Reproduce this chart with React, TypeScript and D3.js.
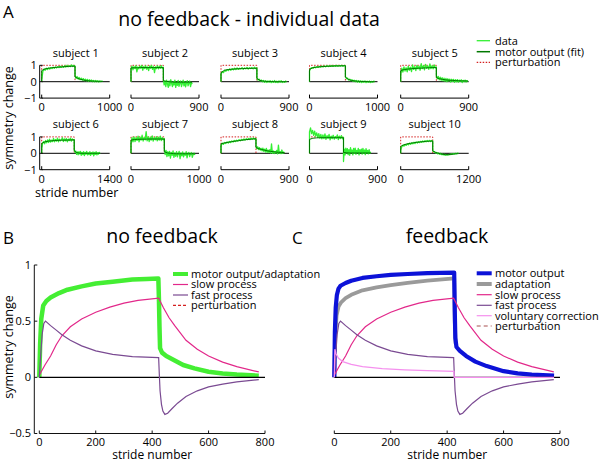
import React from "react";
import * as d3 from "d3";

const FONT = "'Open Sans', 'Noto Sans', sans-serif";

// ---------- Panel A data ----------
const subjectLabels = ["subject 1", "subject 2", "subject 3", "subject 4", "subject 5", "subject 6", "subject 7", "subject 8", "subject 9", "subject 10"];
const axisMax = [1000, 900, 900, 1000, 900, 1400, 1000, 900, 900, 1200];
const adaptEnd = [490, 428, 475, 528, 472, 670, 490, 463, 450, 565];
const dataEnd = [900, 810, 870, 960, 890, 1200, 940, 840, 810, 1020];
const smallYTicks = [1, 0, -1];

const s1Adapt = [0.1, 0.62, 0.78, 0.7, 0.82, 0.74, 0.84, 0.77, 0.86, 0.8, 0.88, 0.82, 0.9, 0.84, 0.92, 0.86, 0.94, 0.87, 0.95, 0.88, 0.97, 0.9, 1.0, 0.91, 0.98, 0.92, 1.02, 0.93, 0.99, 0.95];
const s1Wash = [0.38, 0.2, 0.32, 0.16, 0.26, 0.12, 0.22, 0.1, 0.19, 0.06, 0.16, 0.05, 0.14, 0.02, 0.12, 0.03, 0.1, 0.0, 0.08, -0.01, 0.07, 0.0, 0.06, -0.02, 0.05, 0.0, 0.04, 0.01];
const s1FitAdapt = [0.68, 0.78, 0.82, 0.85, 0.87, 0.89, 0.9, 0.92, 0.93, 0.94, 0.95];
const s1FitWash = [0.3, 0.2, 0.14, 0.1, 0.07, 0.05, 0.04, 0.03, 0.02, 0.02, 0.01];

const s2Adapt = [0.8, 0.95, 0.72, 0.92, 0.8, 0.98, 0.6, 0.9, 0.78, 0.95, 0.82, 1.0, 0.7, 0.92, 0.8, 0.97, 0.76, 0.9, 0.68, 0.96, 0.82, 1.0, 0.75, 0.92, 0.55, 0.9, 0.8, 0.97, 0.78, 0.93, 0.82, 0.98, 0.8, 0.88];
const s2Wash = [0.15, -0.2, 0.05, -0.3, 0.1, -0.15, -0.35, 0.05, -0.25, 0.12, -0.1, -0.3, 0.0, -0.2, 0.1, -0.35, -0.05, -0.22, 0.08, -0.28, -0.1, 0.05, -0.3, -0.12, 0.1, -0.25, 0.0, -0.32, -0.08, 0.06, -0.25, -0.1, 0.04, -0.3, -0.05, -0.15];
const s2FitAdapt = [0.84, 0.85, 0.85, 0.86, 0.86, 0.86, 0.86, 0.86, 0.86, 0.86, 0.86];
const s2FitWash = [0.05, 0.02, 0.0, -0.02, -0.03, -0.03, -0.03, -0.03, -0.03, -0.03, -0.03];

const s3Adapt = [0.45, 0.62, 0.55, 0.7, 0.64, 0.74, 0.68, 0.78, 0.7, 0.8, 0.72, 0.82, 0.74, 0.84, 0.75, 0.82, 0.78, 0.86, 0.76, 0.84, 0.79, 0.87, 0.77, 0.85, 0.8, 0.86, 0.78, 0.88, 0.8, 0.84];
const s3Wash = [0.22, 0.1, 0.16, 0.04, 0.1, 0.0, 0.07, -0.04, 0.06, -0.05, 0.05, -0.03, 0.06, -0.06, 0.04, -0.04, 0.07, -0.05, 0.03, -0.06, 0.05, -0.03, 0.06, -0.05, 0.02, -0.04, 0.04, 0.0];
const s3FitAdapt = [0.55, 0.7, 0.74, 0.76, 0.78, 0.79, 0.8, 0.81, 0.81, 0.82, 0.82];
const s3FitWash = [0.2, 0.08, 0.04, 0.02, 0.01, 0.01, 0.0, 0.0, 0.0, 0.0, 0.0];

const s4Adapt = [0.65, 0.82, 0.86, 0.82, 0.9, 0.85, 0.92, 0.87, 0.93, 0.89, 0.95, 0.9, 0.96, 0.91, 0.98, 0.92, 0.97, 0.93, 0.99, 0.93, 0.98, 0.94, 1.0, 0.94, 0.99, 0.95, 1.0, 0.94, 0.99, 0.97];
const s4Wash = [0.32, 0.18, 0.22, 0.1, 0.15, 0.06, 0.12, 0.02, 0.09, 0.0, 0.07, -0.03, 0.06, -0.04, 0.05, -0.05, 0.04, -0.03, 0.05, -0.06, 0.03, -0.04, 0.04, -0.05, 0.02, -0.03, 0.03, 0.0];
const s4FitAdapt = [0.75, 0.86, 0.89, 0.91, 0.93, 0.94, 0.95, 0.96, 0.96, 0.97, 0.97];
const s4FitWash = [0.28, 0.14, 0.08, 0.05, 0.03, 0.02, 0.01, 0.01, 0.0, 0.0, 0.0];

const s5Adapt = [0.4, 0.82, 0.58, 0.9, 0.65, 0.85, 0.6, 0.95, 0.7, 0.88, 0.62, 1.02, 0.75, 0.92, 0.68, 1.0, 0.78, 0.95, 0.7, 1.1, 0.8, 0.98, 0.72, 1.05, 0.82, 0.96, 0.75, 1.08, 0.8, 0.98, 0.78, 1.02, 0.84, 0.9];
const s5Wash = [0.38, 0.18, 0.32, 0.12, 0.28, 0.08, 0.25, 0.05, 0.22, 0.02, 0.2, 0.0, 0.18, 0.04, 0.16, -0.02, 0.15, 0.02, 0.14, -0.04, 0.12, 0.0, 0.13, -0.03, 0.1, 0.02, 0.12, -0.05, 0.08, 0.0, 0.1, -0.02, 0.06, 0.02];
const s5FitAdapt = [0.68, 0.74, 0.77, 0.79, 0.81, 0.82, 0.83, 0.84, 0.85, 0.86, 0.86];
const s5FitWash = [0.25, 0.18, 0.14, 0.11, 0.09, 0.08, 0.07, 0.06, 0.05, 0.05, 0.04];

const s6Adapt = [0.3, 0.62, 0.72, 0.58, 0.78, 0.64, 0.82, 0.66, 0.86, 0.68, 0.8, 0.72, 0.9, 0.7, 0.84, 0.74, 0.92, 0.7, 0.86, 0.76, 0.82, 0.95, 0.72, 0.88, 0.76, 0.9, 0.7, 0.86, 0.78, 0.92, 0.74, 0.88, 0.8, 0.84];
const s6Wash = [0.22, 0.05, 0.14, -0.06, 0.08, -0.1, 0.1, -0.04, 0.12, -0.12, 0.05, -0.08, 0.1, -0.14, 0.06, -0.05, 0.12, -0.1, 0.02, -0.08, 0.1, -0.12, 0.04, -0.06, 0.09, -0.15, 0.05, -0.07, 0.1, -0.1, 0.03, -0.05, 0.06, -0.02];
const s6FitAdapt = [0.6, 0.7, 0.74, 0.76, 0.78, 0.79, 0.8, 0.8, 0.81, 0.81, 0.82];
const s6FitWash = [0.15, 0.04, 0.01, 0.0, 0.0, 0.0, 0.0, 0.0, 0.0, 0.0, 0.0];

const s7Adapt = [0.55, 0.95, 0.7, 1.0, 0.72, 0.95, 0.78, 1.05, 0.7, 0.98, 0.8, 1.1, 0.75, 0.96, 0.82, 1.32, 0.76, 1.0, 0.72, 0.98, 0.8, 1.06, 0.74, 0.96, 0.82, 1.02, 0.76, 0.98, 0.8, 1.04, 0.78, 0.95, 0.82, 0.9];
const s7Wash = [0.25, -0.08, 0.18, -0.2, 0.1, -0.15, 0.12, -0.3, 0.05, -0.12, 0.15, -0.25, 0.02, -0.18, 0.1, -0.22, -0.02, 0.12, -0.32, 0.02, -0.15, 0.08, -0.22, 0.0, -0.12, 0.1, -0.28, -0.02, 0.06, -0.2, -0.05, 0.05, -0.25, -0.08, 0.02, -0.1];
const s7FitAdapt = [0.8, 0.84, 0.85, 0.86, 0.86, 0.87, 0.87, 0.87, 0.87, 0.87, 0.87];
const s7FitWash = [0.1, 0.02, 0.0, -0.02, -0.03, -0.03, -0.03, -0.03, -0.03, -0.03, -0.03];

const s8Adapt = [0.45, 0.62, 0.55, 0.66, 0.6, 0.7, 0.62, 0.72, 0.66, 0.75, 0.68, 0.78, 0.72, 0.8, 0.74, 0.83, 0.76, 0.85, 0.79, 0.87, 0.8, 0.89, 0.83, 0.91, 0.84, 0.92, 0.85, 0.93, 0.86, 0.9];
const s8Wash = [0.45, 0.28, 0.4, 0.22, 0.35, 0.2, 0.3, 0.15, 0.32, 0.12, 0.25, 0.08, 0.3, 0.06, 0.2, 0.05, 0.22, 0.02, 0.58, 0.0, 0.15, -0.02, 0.12, 0.02, 0.18, -0.04, 0.5, 0.0, 0.1, -0.02, 0.2, 0.0, 0.08, 0.02];
const s8FitAdapt = [0.58, 0.63, 0.67, 0.71, 0.74, 0.77, 0.8, 0.83, 0.85, 0.87, 0.89];
const s8FitWash = [0.35, 0.28, 0.23, 0.19, 0.15, 0.12, 0.1, 0.08, 0.06, 0.05, 0.04];

const s9Adapt = [1.3, 1.55, 1.2, 1.4, 1.1, 1.35, 1.05, 1.25, 0.98, 1.2, 0.92, 1.15, 0.88, 1.12, 0.9, 1.18, 0.85, 1.08, 0.92, 1.15, 0.82, 1.05, 0.9, 1.1, 0.86, 1.02, 0.92, 1.12, 0.84, 1.05, 0.9, 1.08, 0.88, 0.98];
const s9Wash = [-0.5, 0.25, -0.1, 0.32, 0.02, 0.28, -0.08, 0.22, -0.12, 0.35, 0.05, 0.2, -0.1, 0.3, 0.0, 0.32, -0.06, 0.18, 0.04, 0.3, -0.1, 0.22, 0.06, 0.25, -0.05, 0.3, 0.0, 0.2, -0.08, 0.28, 0.02, 0.18, -0.04, 0.22, 0.0, 0.1];
const s9FitAdapt = [0.85, 0.92, 0.94, 0.95, 0.95, 0.95, 0.95, 0.95, 0.95, 0.95, 0.95];
const s9FitWash = [0.05, 0.03, 0.02, 0.02, 0.02, 0.02, 0.02, 0.02, 0.02, 0.02, 0.02];

const s10Adapt = [0.2, 0.4, 0.5, 0.44, 0.54, 0.48, 0.58, 0.52, 0.62, 0.55, 0.64, 0.58, 0.67, 0.6, 0.69, 0.63, 0.71, 0.65, 0.73, 0.67, 0.75, 0.68, 0.77, 0.7, 0.78, 0.71, 0.79, 0.72, 0.78, 0.75];
const s10Wash = [0.16, 0.08, 0.1, 0.02, 0.05, -0.03, 0.02, -0.06, 0.0, -0.08, -0.04, -0.1, -0.06, -0.12, -0.07, -0.11, -0.08, -0.1, -0.05, -0.08, -0.03, -0.06, -0.02, -0.04, 0.0, -0.03, 0.01, -0.01];
const s10FitAdapt = [0.42, 0.52, 0.57, 0.61, 0.64, 0.67, 0.69, 0.71, 0.73, 0.74, 0.75];
const s10FitWash = [0.15, 0.06, 0.01, -0.03, -0.06, -0.08, -0.08, -0.07, -0.05, -0.03, -0.02];

const adaptData = [s1Adapt, s2Adapt, s3Adapt, s4Adapt, s5Adapt, s6Adapt, s7Adapt, s8Adapt, s9Adapt, s10Adapt];
const washData = [s1Wash, s2Wash, s3Wash, s4Wash, s5Wash, s6Wash, s7Wash, s8Wash, s9Wash, s10Wash];
const fitAdapt = [s1FitAdapt, s2FitAdapt, s3FitAdapt, s4FitAdapt, s5FitAdapt, s6FitAdapt, s7FitAdapt, s8FitAdapt, s9FitAdapt, s10FitAdapt];
const fitWash = [s1FitWash, s2FitWash, s3FitWash, s4FitWash, s5FitWash, s6FitWash, s7FitWash, s8FitWash, s9FitWash, s10FitWash];

// ---------- Panels B & C data ([stride, value]) ----------
const modelXTicks = [0, 200, 400, 600, 800];
const modelYTicks = [1, 0.5, 0, -0.5];
const modelYTickLabels = ["1", "0.5", "0", "\u22120.5"];

const motorNoFb: [number, number][] = [[0, 0], [3, 0.3], [7, 0.52], [14, 0.64], [25, 0.68], [40, 0.71], [70, 0.75], [100, 0.78], [150, 0.81], [200, 0.835], [260, 0.85], [330, 0.87], [380, 0.875], [422, 0.88], [424, 0.7], [426, 0.45], [428, 0.26], [435, 0.22], [450, 0.19], [480, 0.15], [510, 0.11], [550, 0.08], [600, 0.05], [650, 0.035], [700, 0.025], [778, 0.015]];
const slowProc: [number, number][] = [[0, 0.02], [20, 0.11], [40, 0.19], [60, 0.29], [80, 0.37], [110, 0.45], [150, 0.52], [200, 0.58], [250, 0.625], [300, 0.66], [350, 0.685], [423, 0.705], [440, 0.62], [460, 0.53], [480, 0.46], [520, 0.33], [560, 0.25], [600, 0.19], [650, 0.135], [700, 0.095], [778, 0.048]];
const fastProc: [number, number][] = [[0, 0], [5, 0.2], [10, 0.38], [16, 0.48], [22, 0.5], [40, 0.46], [60, 0.42], [80, 0.38], [110, 0.33], [150, 0.28], [200, 0.235], [260, 0.205], [330, 0.185], [423, 0.175], [425, 0.05], [428, -0.12], [433, -0.24], [438, -0.3], [445, -0.33], [455, -0.32], [470, -0.28], [490, -0.23], [520, -0.17], [560, -0.12], [600, -0.085], [650, -0.06], [700, -0.04], [778, -0.02]];
const motorFb: [number, number][] = [[0, 0], [2, 0.4], [5, 0.62], [9, 0.73], [15, 0.79], [22, 0.815], [40, 0.84], [60, 0.86], [100, 0.885], [150, 0.9], [200, 0.912], [260, 0.92], [330, 0.927], [425, 0.932], [427, 0.6], [429, 0.35], [433, 0.27], [445, 0.235], [467, 0.19], [500, 0.14], [540, 0.1], [600, 0.055], [650, 0.035], [700, 0.024], [779, 0.015]];
const adaptFb: [number, number][] = [[0, 0], [3, 0.35], [8, 0.55], [15, 0.63], [25, 0.67], [40, 0.705], [60, 0.735], [100, 0.775], [150, 0.8], [200, 0.82], [260, 0.84], [330, 0.86], [425, 0.88], [427, 0.5], [430, 0.3]];
const voluntary: [number, number][] = [[0, 0], [2, 0.25], [6, 0.21], [15, 0.17], [30, 0.14], [60, 0.115], [100, 0.095], [170, 0.078], [250, 0.067], [330, 0.06], [424, 0.053], [425, 0], [779, 0]];

const legendA = ["data", "motor output (fit)", "perturbation"];
const legendB = ["motor output/adaptation", "slow process", "fast process", "perturbation"];
const legendC = ["motor output", "adaptation", "slow process", "fast process", "voluntary correction", "perturbation"];

// ---------- styles ----------
const C_DATA = "#33f033";
const C_FIT = "#007800";
const C_PERT = "#d42020";
const C_SLOW = "#e2288a";
const C_FAST = "#7a4a92";
const C_BLUE = "#0c12d8";
const C_GRAY = "#9a9a9a";
const C_VOL = "#f590ee";
const C_MOTOR_B = "#44ee33";

const colX = [41.7, 131, 221, 309.5, 400.7];
const rowZero = [81.7, 153.3];
const SM_W = 68;
const SM_H = 16.4;

function buildSeries(adapt: number[], wash: number[], aEnd: number, dEnd: number): [number, number][] {
  const pts: [number, number][] = [[0, 0]];
  adapt.forEach((v, k) => pts.push([(k * aEnd) / (adapt.length - 1), v]));
  wash.forEach((v, k) => pts.push([aEnd + (k * (dEnd - aEnd)) / (wash.length - 1), v]));
  return pts;
}

function SmallMultiple({ i }: { i: number }) {
  const col = i % 5;
  const row = Math.floor(i / 5);
  const x0 = colX[col];
  const z = rowZero[row];
  const x = d3.scaleLinear().domain([0, axisMax[i]]).range([x0, x0 + SM_W]);
  const y = d3.scaleLinear().domain([-1, 1]).range([z + SM_H, z - SM_H]);
  const line = d3.line<[number, number]>().x((d) => x(d[0])).y((d) => y(d[1]));
  const data = buildSeries(adaptData[i], washData[i], adaptEnd[i], dataEnd[i]);
  const fit = buildSeries(fitAdapt[i], fitWash[i], adaptEnd[i], dataEnd[i]);
  const pert: [number, number][] = [[0, 0], [0, 1], [adaptEnd[i], 1], [adaptEnd[i], 0]];
  const yb = y(-1);
  return (
    <g>
      <text x={x0 + SM_W / 2} y={z - 25} textAnchor="middle" fontSize={11}>{subjectLabels[i]}</text>
      <line x1={x(0)} x2={x(axisMax[i])} y1={y(0)} y2={y(0)} stroke="#000" strokeWidth={1} />
      <path d={line(pert) || ""} fill="none" stroke={C_PERT} strokeWidth={1} strokeDasharray="1.5 1.5" />
      <path d={line(data) || ""} fill="none" stroke={C_DATA} strokeWidth={1.3} strokeLinejoin="round" />
      <path d={line(fit) || ""} fill="none" stroke={C_FIT} strokeWidth={1} />
      <path d={`M${x(0)},${yb - 3.5}V${yb}H${x(axisMax[i])}V${yb - 3.5}`} fill="none" stroke="#000" strokeWidth={1} />
      <text x={x(0)} y={yb + 13} textAnchor="middle" fontSize={11}>0</text>
      <text x={x(axisMax[i])} y={yb + 13} textAnchor="middle" fontSize={11}>{axisMax[i]}</text>
      {col === 0 && (
        <g>
          <line x1={x0 - 2} x2={x0 - 2} y1={y(1)} y2={y(-1)} stroke="#000" strokeWidth={1} />
          {smallYTicks.map((t) => (
            <g key={t}>
              <line x1={x0 - 2} x2={x0 + 1} y1={y(t)} y2={y(t)} stroke="#000" strokeWidth={1} />
              <text x={x0 - 5} y={y(t)} dy="0.35em" textAnchor="end" fontSize={11}>{t < 0 ? "\u2212" + Math.abs(t) : t}</text>
            </g>
          ))}
        </g>
      )}
    </g>
  );
}

function ModelPanel({ fb }: { fb: boolean }) {
  const xl = fb ? 334.3 : 39.3;
  const x = d3.scaleLinear().domain([0, 800]).range([xl, xl + 225.7]);
  const y = d3.scaleLinear().domain([-0.5, 1]).range([433.5, 265]);
  const line = d3.line<[number, number]>().x((d) => x(d[0])).y((d) => y(d[1]));
  const yb = y(-0.5);
  const zero: [number, number][] = [[0, 0], [800, 0]];
  return (
    <g>
      {!fb && <path d={line(motorNoFb) || ""} fill="none" stroke={C_MOTOR_B} strokeWidth={4.5} strokeLinejoin="round" />}
      {fb && <path d={line(adaptFb) || ""} fill="none" stroke={C_GRAY} strokeWidth={3.8} strokeLinejoin="round" />}
      {fb && <path d={line(motorFb) || ""} fill="none" stroke={C_BLUE} strokeWidth={4.2} strokeLinejoin="round" />}
      <path d={line(zero) || ""} fill="none" stroke="#000" strokeWidth={1.2} />
      <path d={line(slowProc) || ""} fill="none" stroke={C_SLOW} strokeWidth={1.2} />
      <path d={line(fastProc) || ""} fill="none" stroke={C_FAST} strokeWidth={1.2} />
      {fb && <path d={line(voluntary) || ""} fill="none" stroke={C_VOL} strokeWidth={1.3} />}
      <line x1={x(0)} x2={x(800)} y1={yb} y2={yb} stroke="#111" strokeWidth={1} />
      {modelXTicks.map((t) => (
        <g key={t}>
          <line x1={x(t)} x2={x(t)} y1={yb} y2={yb - 3} stroke="#111" strokeWidth={1} />
          <text x={x(t)} y={yb + 12.5} textAnchor="middle" fontSize={11}>{t}</text>
        </g>
      ))}
      <text x={x(400)} y={yb + 25} textAnchor="middle" fontSize={12}>stride number</text>
      {!fb && (
        <g>
          <line x1={34.3} x2={34.3} y1={y(1)} y2={y(-0.5)} stroke="#111" strokeWidth={1} />
          {modelYTicks.map((t, k) => (
            <g key={t}>
              <line x1={34.3} x2={37.3} y1={y(t)} y2={y(t)} stroke="#111" strokeWidth={1} />
              <text x={31} y={y(t)} dy="0.35em" textAnchor="end" fontSize={11}>{modelYTickLabels[k]}</text>
            </g>
          ))}
          <text transform={`translate(13,347) rotate(-90)`} textAnchor="middle" fontSize={12.5}>symmetry change</text>
        </g>
      )}
    </g>
  );
}

export default function App() {
  const legBRows = [274, 284.5, 295, 305.3];
  const legCRows = [273.3, 284, 294.7, 305.3, 315.7, 326];
  const legARows = [40.7, 51.7, 62.3];
  const legBStyles = [
    { stroke: C_MOTOR_B, w: 4, dash: "" },
    { stroke: C_SLOW, w: 1.2, dash: "" },
    { stroke: C_FAST, w: 1.2, dash: "" },
    { stroke: C_PERT, w: 1.2, dash: "3 2" },
  ];
  const legCStyles = [
    { stroke: C_BLUE, w: 4, dash: "" },
    { stroke: C_GRAY, w: 4, dash: "" },
    { stroke: C_SLOW, w: 1.2, dash: "" },
    { stroke: C_FAST, w: 1.2, dash: "" },
    { stroke: C_VOL, w: 1.2, dash: "" },
    { stroke: "#a85050", w: 1.2, dash: "4 3" },
  ];
  const legAStyles = [
    { stroke: C_DATA, w: 1.3, dash: "" },
    { stroke: C_FIT, w: 1.5, dash: "" },
    { stroke: C_PERT, w: 1.3, dash: "1.5 1.5" },
  ];
  return (
    <svg width={600} height={461} style={{ position: "absolute", left: 0, top: 0, background: "#fff" }} fontFamily={FONT}>
      <rect width={600} height={461} fill="#fff" />
      <text x={3} y={18} fontSize={17}>A</text>
      <text x={249} y={26} textAnchor="middle" fontSize={19.5}>no feedback - individual data</text>
      {subjectLabels.map((_, i) => <SmallMultiple key={i} i={i} />)}
      <text transform="translate(13,118) rotate(-90)" textAnchor="middle" fontSize={12.5}>symmetry change</text>
      <text x={76.7} y={197} textAnchor="middle" fontSize={12.5}>stride number</text>
      {legendA.map((s, k) => (
        <g key={s}>
          <line x1={476.7} x2={490} y1={legARows[k]} y2={legARows[k]} stroke={legAStyles[k].stroke} strokeWidth={legAStyles[k].w} strokeDasharray={legAStyles[k].dash} />
          <text x={495} y={legARows[k]} dy="0.35em" fontSize={11}>{s}</text>
        </g>
      ))}

      <text x={3} y={244} fontSize={17}>B</text>
      <text x={292} y={244} fontSize={17}>C</text>
      <text x={162} y={243} textAnchor="middle" fontSize={19.5}>no feedback</text>
      <text x={447} y={243} textAnchor="middle" fontSize={19.5}>feedback</text>
      <ModelPanel fb={false} />
      <ModelPanel fb={true} />
      {legendB.map((s, k) => (
        <g key={s}>
          <line x1={173} x2={188} y1={legBRows[k]} y2={legBRows[k]} stroke={legBStyles[k].stroke} strokeWidth={legBStyles[k].w} strokeDasharray={legBStyles[k].dash} />
          <text x={191} y={legBRows[k]} dy="0.35em" fontSize={11}>{s}</text>
        </g>
      ))}
      {legendC.map((s, k) => (
        <g key={s}>
          <line x1={476.7} x2={491.7} y1={legCRows[k]} y2={legCRows[k]} stroke={legCStyles[k].stroke} strokeWidth={legCStyles[k].w} strokeDasharray={legCStyles[k].dash} />
          <text x={495} y={legCRows[k]} dy="0.35em" fontSize={11}>{s}</text>
        </g>
      ))}
    </svg>
  );
}
